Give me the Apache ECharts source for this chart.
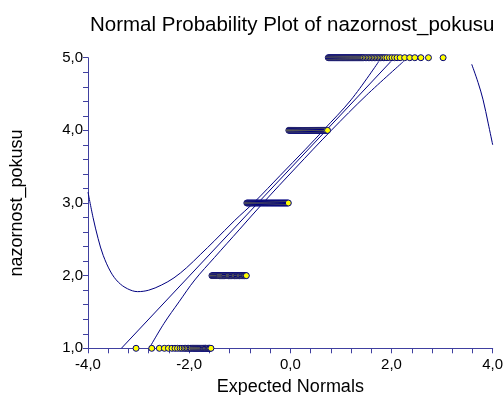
<!DOCTYPE html>
<html>
<head>
<meta charset="utf-8">
<script src="https://cdn.jsdelivr.net/npm/echarts@6/dist/echarts.min.js"></script>
<style>
  html, body { margin: 0; padding: 0; background: #ffffff; }
  #chart { width: 504px; height: 395px; }
</style>
</head>
<body>
<div id="chart"></div>
<script>
// Scores of the variable (y) and the expected normal score of every observation (x)
const scores = [1, 2, 3, 4, 5];
const normalsScore1 = [-3.05, -2.74, -2.59, -2.49, -2.41, -2.34, -2.28, -2.23, -2.18, -2.14,
  -2.10, -2.07, -2.04, -2.01, -1.98, -1.96, -1.93, -1.91, -1.89, -1.87, -1.85, -1.83, -1.81,
  -1.79, -1.77, -1.75, -1.73, -1.72, -1.70, -1.68, -1.67, -1.65, -1.63, -1.62, -1.60, -1.59, -1.57];
const normalsScore2 = [-1.55, -1.53, -1.51, -1.49, -1.47, -1.45, -1.43, -1.41, -1.40, -1.38,
  -1.36, -1.34, -1.32, -1.30, -1.29, -1.27, -1.25, -1.23, -1.22, -1.20, -1.18, -1.16, -1.15,
  -1.13, -1.11, -1.10, -1.08, -1.06, -1.05, -1.03, -1.01, -1.00, -0.98, -0.96, -0.95, -0.93,
  -0.91, -0.90, -0.88, -0.87];
const normalsScore3 = [-0.86, -0.84, -0.82, -0.80, -0.78, -0.76, -0.74, -0.72, -0.70, -0.68,
  -0.66, -0.64, -0.62, -0.60, -0.58, -0.56, -0.54, -0.52, -0.50, -0.48, -0.46, -0.44, -0.42,
  -0.40, -0.38, -0.36, -0.34, -0.32, -0.30, -0.28, -0.26, -0.24, -0.22, -0.20, -0.18, -0.16,
  -0.14, -0.12, -0.10, -0.08, -0.06, -0.04];
const normalsScore4 = [-0.03, -0.01, 0.01, 0.03, 0.05, 0.07, 0.09, 0.11, 0.13, 0.15, 0.17,
  0.19, 0.21, 0.23, 0.25, 0.27, 0.29, 0.31, 0.33, 0.35, 0.37, 0.39, 0.41, 0.43, 0.45, 0.47,
  0.49, 0.51, 0.53, 0.55, 0.57, 0.59, 0.61, 0.63, 0.65, 0.67, 0.69, 0.71, 0.735];
const normalsScore5 = [0.75, 0.77, 0.79, 0.81, 0.83, 0.85, 0.87, 0.89, 0.91, 0.93, 0.95,
  0.97, 0.99, 1.01, 1.03, 1.05, 1.07, 1.09, 1.11, 1.13, 1.15, 1.17, 1.19, 1.21, 1.23, 1.25,
  1.27, 1.29, 1.31, 1.33, 1.35, 1.37, 1.39, 1.41, 1.43, 1.45, 1.48, 1.51, 1.54, 1.57, 1.60,
  1.63, 1.66, 1.69, 1.72, 1.75, 1.78, 1.81, 1.84, 1.87, 1.91, 1.96, 2.01, 2.06, 2.11, 2.17,
  2.26, 2.36, 2.46, 2.58, 2.73, 3.02];

// Fitted normal line and its two bands, as [expected normal, score]
const fitLine = [[-3.34, 1.00], [1.99, 4.95]];
const upperBand = [[-4.00, 3.15], [-3.90, 2.80], [-3.80, 2.51], [-3.70, 2.28], [-3.55, 2.05],
  [-3.40, 1.91], [-3.22, 1.82], [-3.02, 1.78], [-2.80, 1.80], [-2.55, 1.87], [-2.30, 1.97],
  [-2.05, 2.11], [-1.78, 2.29], [-1.50, 2.48], [-1.10, 2.76], [-0.70, 3.02], [-0.20, 3.38],
  [0.30, 3.74], [0.65, 4.00], [1.20, 4.42], [1.75, 4.95]];
const lowerBandLeft = [[-2.79, 1.00], [-2.50, 1.34], [-2.20, 1.64], [-1.89, 1.94],
  [-1.50, 2.25], [-1.00, 2.64], [-0.54, 3.00], [0.10, 3.48], [0.81, 4.00], [1.50, 4.48],
  [2.24, 4.95]];
const lowerBandRight = [[3.585, 4.91], [3.71, 4.66], [3.81, 4.42], [3.91, 4.10], [4.00, 3.80]];

const FONT = "'Liberation Sans', Arial, sans-serif";
const NAVY = '#000080';
const AXIS = '#4040a0';

const groups = [normalsScore1, normalsScore2, normalsScore3, normalsScore4, normalsScore5];
const points = [];
groups.forEach(function (xs, i) {
  xs.forEach(function (x) { points.push([x, scores[i]]); });
});

function fmt(v) {
  return v.toFixed(1).replace('.', ',');
}

const chart = echarts.init(document.getElementById('chart'), null, { renderer: 'canvas' });

const bandLine = { type: 'line', symbol: 'none', showSymbol: false, smooth: 0.35,
  clip: true, silent: true, z: 2, lineStyle: { color: NAVY, width: 1 } };

chart.setOption({
  animation: false,
  backgroundColor: '#ffffff',
  title: {
    text: 'Normal Probability Plot of nazornost_pokusu',
    left: 85, top: 10,
    textStyle: { fontFamily: FONT, fontSize: 20.5, fontWeight: 'normal', color: '#000000' }
  },
  grid: { left: 88, right: 11.3, top: 57.7, bottom: 46.7, containLabel: false,
    outerBoundsMode: 'none' },
  xAxis: {
    type: 'value', min: -4, max: 4, interval: 2,
    name: 'Expected Normals', nameLocation: 'middle', nameGap: 30,
    nameTextStyle: { fontFamily: FONT, fontSize: 18, color: '#000000' },
    axisLine: { show: true, onZero: false, lineStyle: { color: AXIS, width: 1 } },
    axisTick: { show: true, length: 5, lineStyle: { color: AXIS } },
    minorTick: { show: true, splitNumber: 5, length: 5, lineStyle: { color: AXIS } },
    splitLine: { show: false },
    axisLabel: { fontFamily: FONT, fontSize: 15, color: '#000000', margin: 9, formatter: fmt }
  },
  yAxis: {
    type: 'value', min: 1, max: 5, interval: 1,
    name: 'nazornost_pokusu', nameLocation: 'middle', nameGap: 62,
    nameTextStyle: { fontFamily: FONT, fontSize: 18, color: '#000000' },
    axisLine: { show: true, onZero: false, lineStyle: { color: AXIS, width: 1 } },
    axisTick: { show: true, length: 5, lineStyle: { color: AXIS } },
    minorTick: { show: true, splitNumber: 5, length: 5, lineStyle: { color: AXIS } },
    splitLine: { show: false },
    axisLabel: { fontFamily: FONT, fontSize: 15, color: '#000000', margin: 5, formatter: fmt }
  },
  series: [
    Object.assign({}, bandLine, { data: fitLine, smooth: false }),
    Object.assign({}, bandLine, { data: upperBand }),
    Object.assign({}, bandLine, { data: lowerBandLeft }),
    Object.assign({}, bandLine, { data: lowerBandRight }),
    {
      type: 'scatter', data: points, symbol: 'circle', symbolSize: 6, z: 3, silent: true,
      itemStyle: { color: '#ffff00', borderColor: NAVY, borderWidth: 1, opacity: 1 }
    }
  ]
});
</script>
</body>
</html>
